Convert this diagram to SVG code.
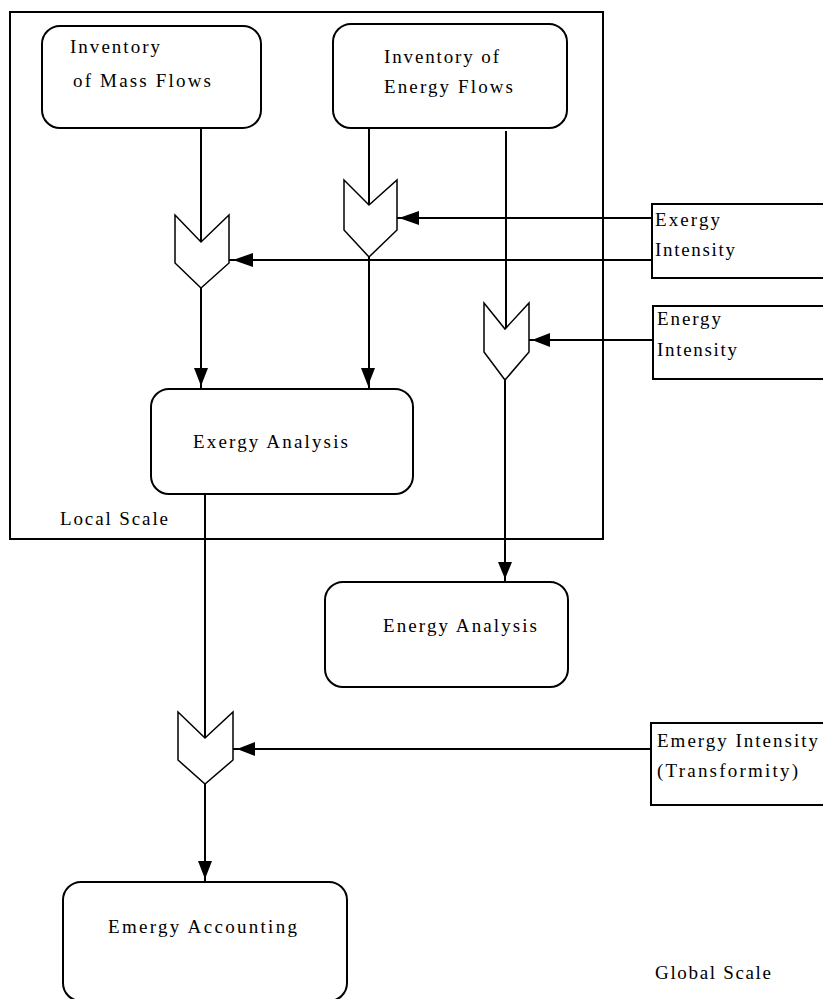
<svg xmlns="http://www.w3.org/2000/svg" width="823" height="999" viewBox="0 0 823 999">
<style>
text{font-family:"Liberation Serif","Times New Roman",serif;font-size:19px;fill:#000}
.frame{fill:none;stroke:#000;stroke-width:2}
.rbox{fill:#fff;stroke:#000;stroke-width:2}
.sbox{fill:#fff;stroke:#000;stroke-width:2}
.chev{fill:#fff;stroke:#000;stroke-width:1.5;stroke-linejoin:miter}
.ln{fill:none;stroke:#000;stroke-width:2}
.ah{fill:#000;stroke:none}
</style>
<rect width="823" height="999" fill="#fff"/>
<g id="local-scale">
<rect class="frame" x="10" y="12" width="593" height="527"/>
<text x="60" y="525" textLength="108" lengthAdjust="spacing">Local Scale</text>
</g>
<g id="global-scale-label">
<text x="655" y="979" textLength="116" lengthAdjust="spacing">Global Scale</text>
</g>
<g id="connectors">
<path class="ln" d="M201 128V242"/>
<path class="ln" d="M369 128V205"/>
<path class="ln" d="M506 131V329"/>
<path class="ln" d="M652 218H397"/>
<path class="ln" d="M652 260H229"/>
<path class="ln" d="M653 340H529"/>
<path class="ln" d="M201 288V389"/>
<path class="ln" d="M369 257V389"/>
<path class="ln" d="M505 380V582"/>
<path class="ln" d="M205 494V738"/>
<path class="ln" d="M651 749H233"/>
<path class="ln" d="M205 784V882"/>
<polygon class="ah" points="399,218 419,211 419,225"/>
<polygon class="ah" points="233,260 253,253 253,267"/>
<polygon class="ah" points="532,340 550,333 550,347"/>
<polygon class="ah" points="237,749 255,742 255,756"/>
<polygon class="ah" points="201,386 194,368 208,368"/>
<polygon class="ah" points="368,386 361,368 375,368"/>
<polygon class="ah" points="505,579 498,562 512,562"/>
<polygon class="ah" points="205,879 198,861 212,861"/>
</g>
<g id="mass-inventory">
<rect class="rbox" x="42" y="26" width="219" height="102" rx="18" ry="18"/>
<text x="70" y="53" textLength="90" lengthAdjust="spacing">Inventory</text>
<text x="73" y="87" textLength="138" lengthAdjust="spacing">of Mass Flows</text>
</g>
<g id="energy-inventory">
<rect class="rbox" x="333" y="24" width="234" height="104" rx="18" ry="18"/>
<text x="384" y="63" textLength="115" lengthAdjust="spacing">Inventory of</text>
<text x="384" y="93" textLength="129" lengthAdjust="spacing">Energy Flows</text>
</g>
<g id="exergy-intensity">
<rect class="sbox" x="652" y="204" width="180" height="74"/>
<text x="655" y="226" textLength="65" lengthAdjust="spacing">Exergy</text>
<text x="655" y="256" textLength="80" lengthAdjust="spacing">Intensity</text>
</g>
<g id="energy-intensity">
<rect class="sbox" x="653" y="306" width="180" height="73"/>
<text x="657" y="325" textLength="64" lengthAdjust="spacing">Energy</text>
<text x="657" y="356" textLength="80" lengthAdjust="spacing">Intensity</text>
</g>
<g id="emergy-intensity">
<rect class="sbox" x="651" y="723" width="182" height="82"/>
<text x="657" y="747" textLength="161" lengthAdjust="spacing">Emergy Intensity</text>
<text x="657" y="777" textLength="141" lengthAdjust="spacing">(Transformity)</text>
</g>
<g id="multiplier-mass">
<polygon class="chev" points="175,215 201,242 229,215 229,263 201,288 175,263"/>
</g>
<g id="multiplier-exergy">
<polygon class="chev" points="344,180 369,205 397,180 397,230 369,257 344,230"/>
</g>
<g id="multiplier-energy">
<polygon class="chev" points="484,303 505,329 529,303 529,352 505,380 484,352"/>
</g>
<g id="multiplier-emergy">
<polygon class="chev" points="178,712 205,738 233,712 233,760 205,784 178,760"/>
</g>
<g id="exergy-analysis">
<rect class="rbox" x="151" y="389" width="262" height="105" rx="18" ry="18"/>
<text x="193" y="448" textLength="155" lengthAdjust="spacing">Exergy Analysis</text>
</g>
<g id="energy-analysis">
<rect class="rbox" x="325" y="582" width="243" height="105" rx="18" ry="18"/>
<text x="383" y="632" textLength="154" lengthAdjust="spacing">Energy Analysis</text>
</g>
<g id="emergy-accounting">
<rect class="rbox" x="63" y="882" width="284" height="119" rx="18" ry="18"/>
<text x="108" y="933" textLength="189" lengthAdjust="spacing">Emergy Accounting</text>
</g>
</svg>
